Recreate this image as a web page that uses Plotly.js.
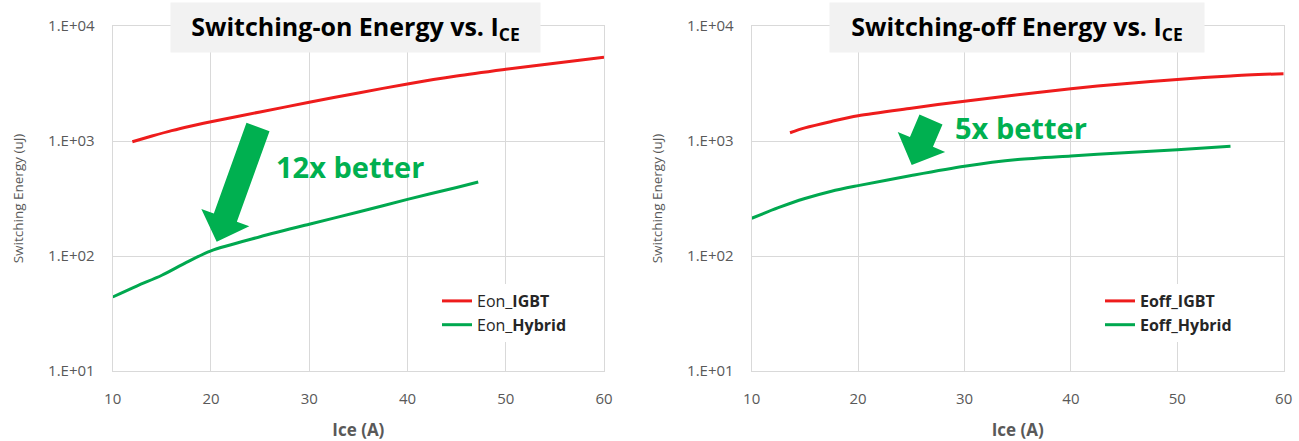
<!DOCTYPE html>
<html>
<head>
<meta charset="utf-8">
<script src="https://cdn.plot.ly/plotly-3.0.1.min.js"></script>
<style>html,body{margin:0;padding:0;background:#fff;}#chart{width:1299px;height:441px;}</style>
</head>
<body>
<div id="chart"></div>
<script>
// ---- data ----
const iceOnIgbt   = [12, 14, 16, 18, 20, 25, 30, 35, 40, 45, 50, 55, 60];
const eonIgbt     = [985, 1104, 1230, 1352, 1472, 1790, 2170, 2618, 3133, 3673, 4198, 4753, 5346];
const iceOnHybrid = [10, 12.5, 15, 17.5, 20, 25, 30, 35, 40, 45, 47.2];
const eonHybrid   = [44, 55, 68, 88, 111, 147, 189, 241, 311, 394, 440];

const iceOffIgbt   = [13.6, 15, 17.5, 20, 25, 30, 35, 40, 45, 50, 55, 60];
const eoffIgbt     = [1180, 1300, 1480, 1660, 1930, 2220, 2520, 2850, 3150, 3430, 3680, 3850];
const iceOffHybrid = [10, 12.5, 15, 17.5, 20, 25, 30, 35, 40, 45, 50, 55];
const eoffHybrid   = [213, 263, 316, 366, 409, 501, 603, 689, 741, 791, 841, 900];

const yTickVals = [10, 100, 1000, 10000];
const yTickText = ['1.E+01', '1.E+02', '1.E+03', '1.E+04'];
const seriesNames = ['Eon_<b>IGBT</b>', 'Eon_<b>Hybrid</b>', '<b>Eoff_IGBT</b>', '<b>Eoff_Hybrid</b>'];
const titles = ['Switching-on Energy vs. I<sub>CE</sub>', 'Switching-off Energy vs. I<sub>CE</sub>'];
const notes = ['12x better', '5x better'];
const xTitle = 'Ice (A)';
const yTitle = 'Switching Energy (uJ)';

// ---- style ----
const W = 1299, H = 441;
const FONT = 'Open Sans, Noto Sans, sans-serif';
const RED = '#ee1c1c';
const GREEN = '#00a84f';
const ARROW = '#00b050';
const GRID = '#d9d9d9';
const TICK = '#595959';

function line(x, y, name, color, xa, ya, leg) {
  return {x: x, y: y, name: name, type: 'scatter', mode: 'lines',
          line: {color: color, width: 3, shape: 'spline', smoothing: 0.8},
          xaxis: xa, yaxis: ya, legend: leg, hoverinfo: 'skip'};
}

const traces = [
  line(iceOnIgbt, eonIgbt, seriesNames[0], RED, 'x', 'y', 'legend'),
  line(iceOnHybrid, eonHybrid, seriesNames[1], GREEN, 'x', 'y', 'legend'),
  line(iceOffIgbt, eoffIgbt, seriesNames[2], RED, 'x2', 'y2', 'legend2'),
  line(iceOffHybrid, eoffHybrid, seriesNames[3], GREEN, 'x2', 'y2', 'legend2')
];

const yDomain = [1 - 371/H, 1 - 26/H];

function xAxis(domain, anchor) {
  return {domain: domain, anchor: anchor, range: [10, 60], dtick: 10, tick0: 10,
          showgrid: true, gridcolor: GRID, gridwidth: 1, zeroline: false,
          showline: true, mirror: true, linecolor: GRID, linewidth: 1, ticks: '',
          ticklabelstandoff: 14,
          tickfont: {family: FONT, size: 15, color: TICK},
          title: {text: '<b>' + xTitle + '</b>', standoff: 19, font: {family: FONT, size: 17, color: TICK}}};
}
function yAxis(anchor) {
  return {domain: yDomain, anchor: anchor, type: 'log', range: [1, 4],
          tickvals: yTickVals, ticktext: yTickText,
          showgrid: true, gridcolor: GRID, gridwidth: 1, zeroline: false,
          showline: true, mirror: true, linecolor: GRID, linewidth: 1, ticks: '',
          ticklabelstandoff: 14,
          tickfont: {family: FONT, size: 15, color: TICK},
          title: {text: yTitle, standoff: 21, font: {family: FONT, size: 13.5, color: TICK}}};
}

function legendCfg(x) {
  return {x: x, y: 1 - 284/H, xanchor: 'left', yanchor: 'top', bgcolor: '#ffffff',
          borderwidth: 0, itemwidth: 30, traceorder: 'normal',
          font: {family: FONT, size: 16, color: '#262626'}};
}

function titleBox(cx, boxW, text) {
  return {xref: 'paper', yref: 'paper', x: cx, y: 1 - 27.5/H, xanchor: 'center', yanchor: 'middle',
          text: '<b>' + text + '</b>', showarrow: false, bgcolor: '#f2f2f2', borderpad: 4,
          width: boxW - 8, height: 41, align: 'center', valign: 'middle',
          font: {family: FONT, size: 25, color: '#000000'}};
}
function note(xr, yr, x, y, text) {
  return {xref: xr, yref: yr, x: x, y: y, text: '<b>' + text + '</b>', showarrow: false,
          xanchor: 'center', yanchor: 'middle', font: {family: FONT, size: 29, color: ARROW}};
}

// block arrow outline (page pixels -> paper), built from tail centre, tip and widths
function blockArrow(tail, tip, shaftW, headW, headL) {
  const dx = tip[0] - tail[0], dy = tip[1] - tail[1];
  const len = Math.hypot(dx, dy);
  const ux = dx / len, uy = dy / len, nx = -uy, ny = ux;
  const bx = tip[0] - ux * headL, by = tip[1] - uy * headL;
  const pts = [
    [tail[0] + nx * shaftW / 2, tail[1] + ny * shaftW / 2],
    [bx + nx * shaftW / 2, by + ny * shaftW / 2],
    [bx + nx * headW / 2, by + ny * headW / 2],
    tip,
    [bx - nx * headW / 2, by - ny * headW / 2],
    [bx - nx * shaftW / 2, by - ny * shaftW / 2],
    [tail[0] - nx * shaftW / 2, tail[1] - ny * shaftW / 2]
  ];
  const path = pts.map((p, i) => (i ? 'L' : 'M') + (p[0] / W).toFixed(5) + ',' + (1 - p[1] / H).toFixed(5)).join(' ') + ' Z';
  return {type: 'path', xref: 'paper', yref: 'paper', path: path,
          fillcolor: ARROW, line: {width: 0}, layer: 'above'};
}

const layout = {
  width: W, height: H,
  margin: {l: 0, r: 0, t: 0, b: 0},
  paper_bgcolor: '#ffffff', plot_bgcolor: '#ffffff',
  showlegend: true,
  xaxis: xAxis([112.7/W, 604/W], 'y'),
  yaxis: yAxis('x'),
  xaxis2: xAxis([751.7/W, 1283.7/W], 'y2'),
  yaxis2: yAxis('x2'),
  legend: legendCfg(437/W),
  legend2: legendCfg(1100/W),
  shapes: [
    blockArrow([258, 127], [216.7, 241.7], 24.5, 51, 25.5),
    blockArrow([931, 119.5], [911.7, 165], 25, 51.5, 25)
  ],
  annotations: [
    titleBox(355.5/W, 369, titles[0]),
    titleBox(1017/W, 374, titles[1]),
    note('x', 'y', 34.1, 2.774, notes[0]),
    note('x2', 'y2', 35.3, 3.12, notes[1])
  ]
};

Plotly.newPlot('chart', traces, layout, {staticPlot: true, displayModeBar: false});
</script>
</body>
</html>
